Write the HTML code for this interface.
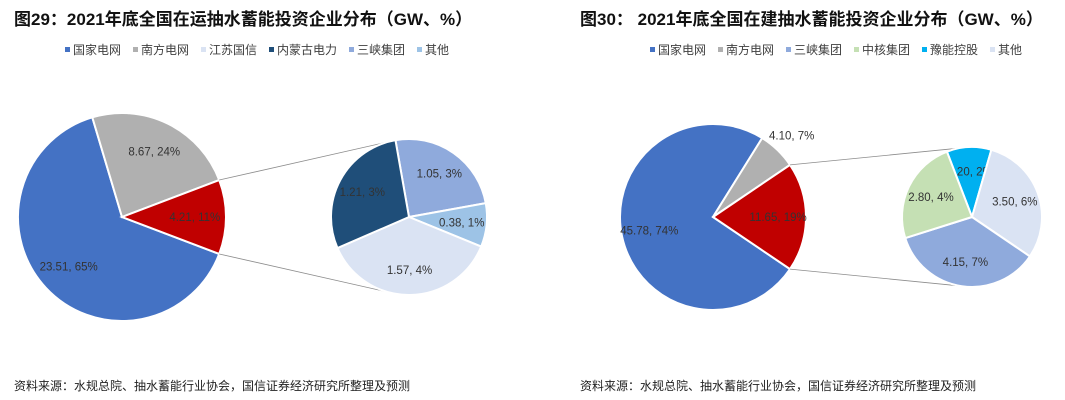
<!DOCTYPE html>
<html><head><meta charset="utf-8">
<style>
body{margin:0;background:#fff;}
svg{display:block;font-family:"Liberation Sans","Noto Sans CJK SC",sans-serif;}
.t{font-weight:bold;font-size:17px;fill:#111;}
.lg{font-size:12px;fill:#404040;}
.src{font-size:12px;fill:#222;}
.lb{font-size:11.5px;fill:#333;}
</style></head>
<body>
<svg id="c" width="1065" height="400" viewBox="0 0 1065 400">
<text class="t" x="14" y="25">图29：2021年底全国在运抽水蓄能投资企业分布（GW、%）</text>
<text class="t" x="580" y="25">图30： 2021年底全国在建抽水蓄能投资企业分布（GW、%）</text>
<text class="src" x="14" y="390">资料来源：水规总院、抽水蓄能行业协会，国信证券经济研究所整理及预测</text>
<text class="src" x="580" y="390">资料来源：水规总院、抽水蓄能行业协会，国信证券经济研究所整理及预测</text>
<g id="g"></g>
</svg>
<script>
// Left chart data
const leftMainNames=["国家电网","南方电网","其他合计"];
const leftMainValues=[23.51,8.67,4.21];
const leftMainPct=["65%","24%","11%"];
const leftSubNames=["三峡集团","其他","江苏国信","内蒙古电力"];
const leftSubValues=[1.05,0.38,1.57,1.21];
const leftSubPct=["3%","1%","4%","3%"];
const leftLegend=["国家电网","南方电网","江苏国信","内蒙古电力","三峡集团","其他"];
// Right chart data
const rightMainNames=["国家电网","南方电网","其他合计"];
const rightMainValues=[45.78,4.10,11.65];
const rightMainPct=["74%","7%","19%"];
const rightSubNames=["豫能控股","其他","三峡集团","中核集团"];
const rightSubValues=[1.20,3.50,4.15,2.80];
const rightSubPct=["2%","6%","7%","4%"];
const rightLegend=["国家电网","南方电网","三峡集团","中核集团","豫能控股","其他"];

const NS="http://www.w3.org/2000/svg";
const g=document.getElementById('g');
function mk(tag,attrs){const e=document.createElementNS(NS,tag);for(const k in attrs)e.setAttribute(k,attrs[k]);g.appendChild(e);return e;}
const rad=d=>d*Math.PI/180;
function pt(cx,cy,r,a){return [cx+r*Math.cos(rad(a)),cy+r*Math.sin(rad(a))];}

// draws pie; start = angle where first slice begins (clockwise, screen degrees)
function pie(cx,cy,r,values,pcts,names,colors,start,prefix,lf,small){
  const tot=values.reduce((a,b)=>a+b,0);
  let a=start;const edges=[];
  values.forEach((v,i)=>{
    const sweep=v/tot*360;const a2=a+sweep;
    const p1=pt(cx,cy,r,a),p2=pt(cx,cy,r,a2);
    const e=mk('path',{d:`M${cx},${cy}L${p1[0]},${p1[1]}A${r},${r} 0 ${sweep>180?1:0} 1 ${p2[0]},${p2[1]}Z`,fill:colors[i],stroke:'#fff','stroke-width':2});
    
    
    edges.push([a,a2]);
    const mid=(a+a2)/2;const f=(small&&v/tot<0.1)?1.22:lf;
    const lp=pt(cx,cy,r*f,mid);
    const txt=v.toFixed(2)+', '+pcts[i];
    if(sweep<45&&!small&&prefix.indexOf('sub')>=0&&r<75&&txt.length>8){
      const t=mk('text',{x:lp[0],y:lp[1]-4,'text-anchor':'middle',class:'lb'});t.textContent=v.toFixed(2)+',';
      
      const t2=mk('text',{x:lp[0],y:lp[1]+14,'text-anchor':'middle',class:'lb'});t2.textContent=pcts[i];
      
    }else{
      const t=mk('text',{x:lp[0],y:lp[1]+4,'text-anchor':'middle',class:'lb'});t.textContent=txt;
      
    }
    a=a2;
  });
  return edges;
}
function centered(values,idx){ // start angle so slice idx is centered on 0°
  const tot=values.reduce((a,b)=>a+b,0);let before=0;for(let i=0;i<idx;i++)before+=values[i];
  return -(before+values[idx]/2)/tot*360;
}
function connectors(mcx,mcy,mr,edge,scx,scy,sr,prefix){
  const a=pt(mcx,mcy,mr,edge[0]),b=pt(mcx,mcy,mr,edge[1]);
  const ta=pt(scx,scy,sr,-100),tb=pt(scx,scy,sr,100);
  [[a,ta],[b,tb]].forEach(([p,q])=>{const l=mk('line',{x1:p[0],y1:p[1],x2:q[0],y2:q[1],stroke:'#8c8c8c','stroke-width':0.8});
    });
}
function legend(x0,y,names,colors,prefix){
  let x=x0;names.forEach((n,i)=>{
    const s=mk('rect',{x:x,y:y-7,width:5,height:5,fill:colors[i]});
    
    const t=mk('text',{x:x+8,y:y,class:'lg'});t.textContent=n;
    
    x+=n.length*12+20;
  });
}
// Left
const lmC=["#4472c4","#b0b0b0","#c00000"];
const lsC=["#8faadc","#9dc3e6","#dae3f3","#1f4e79"];
const lst=centered(leftMainValues,2);
const le=pie(122,217,104,leftMainValues,leftMainPct,leftMainNames,lmC,lst,'left-main',0.7,false);
connectors(122,217,104,le[2],409,217,78,'left');
pie(409,217,78,leftSubValues,leftSubPct,leftSubNames,lsC,-100,'left-sub',0.68,false);
legend(65,54,leftLegend,["#4472c4","#b0b0b0","#dae3f3","#1f4e79","#8faadc","#9dc3e6"],'left');
// Right
const rmC=["#4472c4","#b0b0b0","#c00000"];
const rsC=["#00b0f0","#dae3f3","#8faadc","#c5e0b4"];
const rst=centered(rightMainValues,2);
const re=pie(713,217,93,rightMainValues,rightMainPct,rightMainNames,rmC,rst,'right-main',0.7,true);
connectors(713,217,93,re[2],972,217,70,'right');
pie(972,217,70,rightSubValues,rightSubPct,rightSubNames,rsC,-111,'right-sub',0.65,false);
legend(650,54,rightLegend,["#4472c4","#b0b0b0","#8faadc","#c5e0b4","#00b0f0","#dae3f3"],'right');
</script>
</body></html>
